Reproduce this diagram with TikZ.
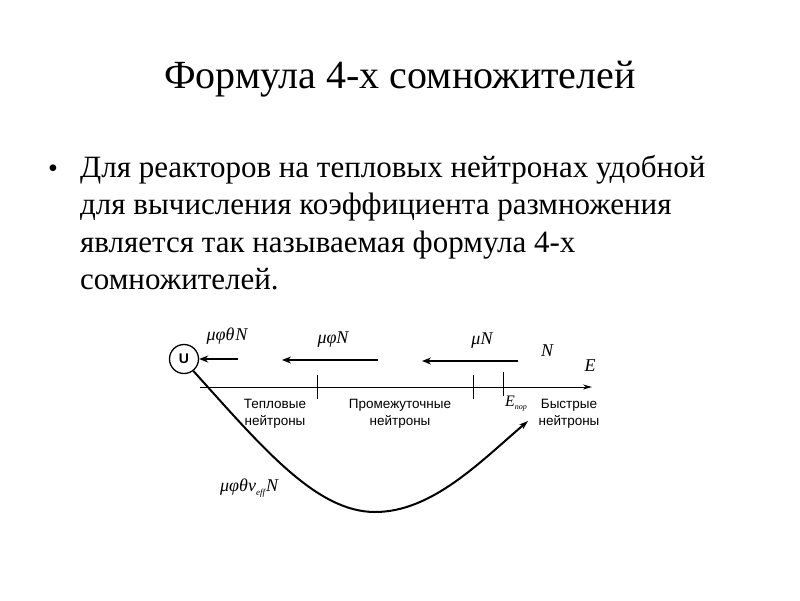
\documentclass[tikz,border=0pt]{standalone}
\usepackage{fontspec}
\setmainfont{Liberation Serif}
\newfontfamily\lsans{Liberation Sans}
\usetikzlibrary{arrows.meta}
\begin{document}
\begin{tikzpicture}[x=1pt,y=-1pt,
  title/.style={font=\fontsize{40}{46}\selectfont, inner sep=0},
  body/.style={font=\fontsize{31}{37.5}\selectfont, inner sep=0, anchor=north west, align=left},
  captext/.style={font=\lsans\fontsize{13.5}{17}\selectfont, align=center, inner sep=0},
  mlab/.style={font=\itshape\fontsize{18}{20}\selectfont, inner sep=0},
  flow/.style={line width=2.4pt, -{Stealth[length=9pt,width=7pt]}},
  axis/.style={line width=1pt, -{Stealth[length=9pt,width=5pt]}},
  tickline/.style={line width=0.8pt}]
\useasboundingbox (0,0) rectangle (800,600);
\node[title] (title) at (400,79) {Формула 4-х сомножителей};
\node[font=\fontsize{28}{30}\selectfont, inner sep=0] (bullet) at (53,171) {•};
\node[body] (text) at (80,155) {Для реакторов на тепловых нейтронах удобной\\для вычисления коэффициента размножения\\является так называемая формула 4-х\\сомножителей.};
% diagram
\node[draw, circle, line width=1.3pt, minimum size=29pt, inner sep=0, font=\lsans\bfseries\fontsize{14}{15}\selectfont] (U) at (184,359) {U};
\coordinate (a0) at (200,387);
\coordinate (a1) at (592,387);
\draw[axis] (a0) -- (a1);
\coordinate (t1a) at (317,375); \coordinate (t1b) at (317,399);
\coordinate (t2a) at (473,375); \coordinate (t2b) at (473,399);
\coordinate (t3a) at (503,372); \coordinate (t3b) at (503,396);
\draw[tickline] (t1a) -- (t1b);
\draw[tickline] (t2a) -- (t2b);
\draw[tickline] (t3a) -- (t3b);
\coordinate (f1s) at (238,359); 
\draw[flow] (f1s) -- (U.east);
\coordinate (f2s) at (378,360); \coordinate (f2e) at (282,360);
\draw[flow] (f2s) -- (f2e);
\coordinate (f3s) at (518,361); \coordinate (f3e) at (422,361);
\draw[flow] (f3s) -- (f3e);
\node[mlab] (l1) at (227,336) {μφθ\hspace{1pt}N};
\node[mlab] (l2) at (333,340) {μφN};
\node[mlab] (l3) at (482,341) {μN};
\node[mlab] (l4) at (547,351) {N};
\node[mlab] (l5) at (590,366) {E};
\node[mlab, anchor=west, font=\itshape\fontsize{16}{18}\selectfont] (l6) at (505,404) {E\raisebox{-3pt}{\fontsize{8}{9}\selectfont пор}};
\node[captext] (c1) at (275,414) {Тепловые\\нейтроны};
\node[captext] (c2) at (400,414) {Промежуточные\\нейтроны};
\node[captext] (c3) at (569,414) {Быстрые\\нейтроны};
\coordinate (cend) at (528,421);
\draw[line width=2pt, -{Stealth[length=9pt,width=6pt]}] (U.-52) .. controls (262,447) and (316,512) .. (375,512) .. controls (432,512) and (480,462) .. (cend);
\node[mlab, anchor=west] (l7) at (220,488) {μφθν\raisebox{-4pt}{\fontsize{9}{10}\selectfont eff}\hspace{1pt}N};
\end{tikzpicture}
\end{document}
